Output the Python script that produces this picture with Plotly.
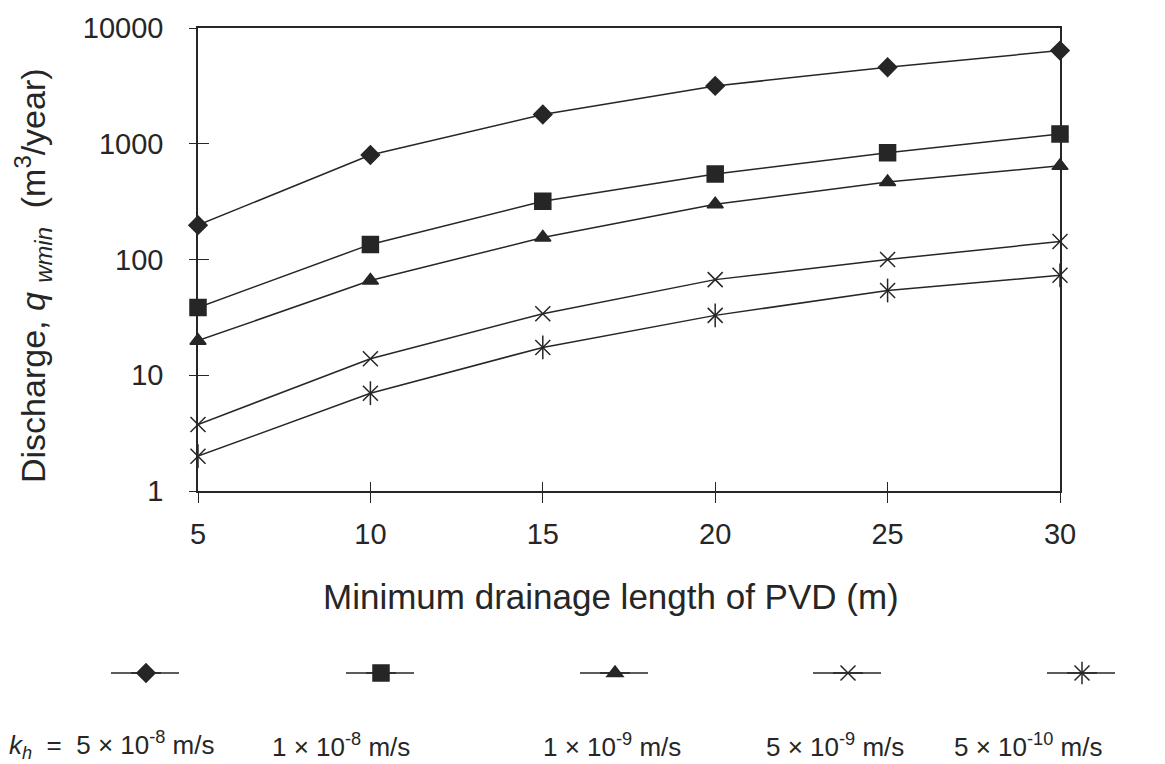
import plotly.graph_objects as go

# ---- data ----
drain_length_m = [5, 10, 15, 20, 25, 30]
q_kh_5e8 = [198, 800, 1790, 3160, 4580, 6380]
q_kh_1e8 = [38.5, 135, 319, 548, 836, 1216]
q_kh_1e9 = [19.9, 65.8, 155, 300, 468, 644]
q_kh_5e9 = [3.75, 13.9, 34, 67, 100, 143]
q_kh_5e10 = [2.0, 7.0, 17.4, 32.9, 54, 73]

series_labels = [
    "<i>k<sub>h</sub></i>  =  5 × 10<sup>-8</sup> m/s",
    "1 × 10<sup>-8</sup> m/s",
    "1 × 10<sup>-9</sup> m/s",
    "5 × 10<sup>-9</sup> m/s",
    "5 × 10<sup>-10</sup> m/s",
]
x_tick_vals = [5, 10, 15, 20, 25, 30]
y_tick_vals = [1, 10, 100, 1000, 10000]
y_tick_text = ["1", "10", "100", "1000", "10000"]

x_title = "Minimum drainage length of PVD (m)"
y_title = "Discharge, <i>q</i> <sub><i>wmin</i></sub>  (m<sup>3</sup>/year)"

# ---- styling / layout ----
FONT = "Liberation Sans, Arial, sans-serif"
INK = "#262626"
OFF = 8                     # page body margin of the browser
W, H = 1165 - OFF, 764 - OFF
L, R, T, B = 198 - OFF, 105, 28 - OFF, 273
PW, PH = W - L - R, H - T - B


def px_x(p):
    """window pixel -> paper x"""
    return (p - OFF - L) / PW


def px_y(p):
    """window pixel -> paper y"""
    return (H - B - (p - OFF)) / PH


legend_key_px = [145, 380, 614, 847, 1081]
legend_key_y = 673
label_center_px = [112, 341, 612, 835, 1028]
label_y = 745

symbols = ["diamond", "square", "triangle-up", "x-thin-open", "x-thin-open"]
sizes = [14, 16, 14, 15, 15]
series = [q_kh_5e8, q_kh_1e8, q_kh_1e9, q_kh_5e9, q_kh_5e10]

fig = go.Figure()
for i, (vals, sym, sz) in enumerate(zip(series, symbols, sizes)):
    fig.add_trace(go.Scatter(
        x=drain_length_m, y=vals, mode="lines+markers",
        name=" ",
        legend="legend" if i == 0 else f"legend{i+1}",
        line=dict(color=INK, width=1.5),
        marker=dict(symbol=sym, size=sz, color=INK,
                    line=dict(color=INK, width=1.5)),
        cliponaxis=False,
    ))
# vertical stroke completing the asterisk markers of the last series
# (its legend key is stacked on top of the last series' key)
fig.add_trace(go.Scatter(
    x=drain_length_m, y=q_kh_5e10, mode="markers", name=" ",
    legend="legend6",
    marker=dict(symbol="line-ns-open", size=17, color=INK,
                line=dict(color=INK, width=1.5)),
    cliponaxis=False,
))
# helper trace for the overlay axes (inside half of the crossing ticks)
fig.add_trace(go.Scatter(x=[None], y=[None], xaxis="x2", yaxis="y2",
                         showlegend=False, hoverinfo="skip"))

common_axis = dict(showgrid=False, zeroline=False, color=INK,
                   tickfont=dict(family=FONT, size=29, color=INK))

fig.update_layout(
    width=W, height=H,
    margin=dict(l=L, r=R, t=T, b=B, autoexpand=False),
    paper_bgcolor="white", plot_bgcolor="white",
    font=dict(family=FONT, color=INK),
    xaxis=dict(range=[5, 30], tickvals=x_tick_vals, ticks="outside",
               ticklen=10, tickwidth=1.3, tickcolor=INK,
               showline=True, linecolor=INK, linewidth=1.5, mirror=True,
               ticklabelstandoff=6, **common_axis),
    yaxis=dict(type="log", range=[0, 4], tickvals=y_tick_vals,
               ticktext=y_tick_text, ticks="outside", ticklen=7,
               tickwidth=1.3, tickcolor=INK,
               showline=True, linecolor=INK, linewidth=1.5, mirror=True,
               ticklabelstandoff=20, **common_axis),
    xaxis2=dict(range=[5, 30], overlaying="x", anchor="y", side="bottom",
                tickvals=x_tick_vals, ticks="inside", ticklen=9,
                tickwidth=1.3, tickcolor=INK, showticklabels=False,
                showline=False, showgrid=False, zeroline=False),
    yaxis2=dict(type="log", range=[0, 4], overlaying="y", anchor="x",
                side="left", tickvals=y_tick_vals, ticks="inside",
                ticklen=11, tickwidth=1.3, tickcolor=INK,
                showticklabels=False, showline=False, showgrid=False,
                zeroline=False),
    showlegend=True,
)

# one small legend per series, keys laid out in a row under the chart
legend_names = ["legend", "legend2", "legend3", "legend4", "legend5"]
legend_x = {name: cx for name, cx in zip(legend_names, legend_key_px)}
legend_x["legend6"] = legend_key_px[-1]
for key, cx in legend_x.items():
    fig.update_layout({key: dict(
        x=px_x(cx - 19), y=px_y(legend_key_y), xanchor="left",
        yanchor="middle", xref="paper", yref="paper",
        bgcolor="rgba(0,0,0,0)", borderwidth=0,
        font=dict(size=10, family=FONT), itemclick=False,
    )})
for cx in legend_key_px:
    # longer key line as in the reference
    fig.add_shape(type="line", xref="paper", yref="paper",
                  x0=px_x(cx - 34), x1=px_x(cx + 34),
                  y0=px_y(legend_key_y), y1=px_y(legend_key_y),
                  line=dict(color=INK, width=1.5), layer="below")

# legend labels under the keys
for txt, cx in zip(series_labels, label_center_px):
    fig.add_annotation(x=px_x(cx), y=px_y(label_y), xref="paper",
                       yref="paper", text=txt, showarrow=False,
                       xanchor="center", yanchor="middle",
                       font=dict(family=FONT, size=26, color=INK))

# axis titles
fig.add_annotation(x=px_x(611), y=px_y(596), xref="paper", yref="paper",
                   text=x_title, showarrow=False, xanchor="center",
                   yanchor="middle", font=dict(family=FONT, size=35, color=INK))
fig.add_annotation(x=px_x(33), y=px_y(276), xref="paper", yref="paper",
                   text=y_title, showarrow=False, textangle=-90,
                   xanchor="center", yanchor="middle",
                   font=dict(family=FONT, size=34, color=INK))

fig.write_html("out.html")
